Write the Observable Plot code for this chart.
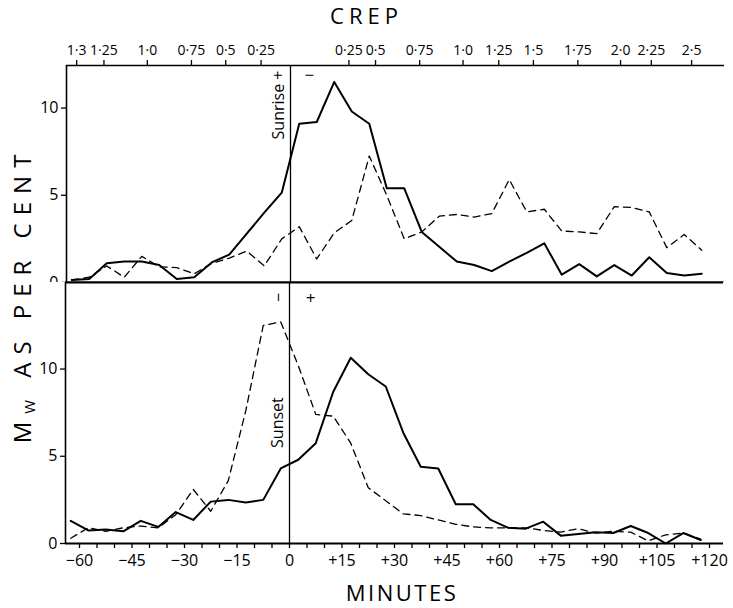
<!DOCTYPE html>
<html>
<head>
<meta charset="utf-8">
<script src="https://cdn.jsdelivr.net/npm/d3@7"></script>
<script src="https://cdn.jsdelivr.net/npm/@observablehq/plot@0.6"></script>
<style>
  body { margin: 0; background: #fff; }
  #wrap { position: relative; width: 733px; height: 608px; background: #fff; overflow: hidden;
          font-family: 'Open Sans', 'DejaVu Sans', sans-serif; color: #000; }
  #topPanel { position: absolute; left: 0; top: 0; width: 733px; }
  #botPanel { position: absolute; left: 0; top: 282px; width: 733px; }
  .ttl { position: absolute; text-align: center; white-space: nowrap; }
  #crep { left: 300px; top: 3px; width: 133px; font-size: 22px; line-height: 24px; letter-spacing: 5px; }
  #minutes { left: 302px; top: 580px; width: 200px; font-size: 22px; line-height: 24px; letter-spacing: 2.5px; }
  #ytitle { left: -143px; top: 280px; width: 330px; height: 30px; font-size: 24px; line-height: 30px;
            letter-spacing: 8px; transform: rotate(-90deg); transform-origin: center; }
  #ytitle sub { font-size: 0.62em; vertical-align: -0.3em; letter-spacing: 8px; }
</style>
</head>
<body>
<div id="wrap">
  <div id="topPanel"></div>
  <div id="botPanel"></div>
  <div class="ttl" id="crep">CREP</div>
  <div class="ttl" id="minutes">MINUTES</div>
  <div class="ttl" id="ytitle">M<sub>W</sub> AS PER CENT</div>
</div>
<script>
// ---- data (minutes relative to sunrise / sunset; 5-minute bins) ----
const minutes = [-62.5,-57.5,-52.5,-47.5,-42.5,-37.5,-32.5,-27.5,-22.5,-17.5,-12.5,-7.5,-2.5,2.5,7.5,12.5,17.5,22.5,27.5,32.5,37.5,42.5,47.5,52.5,57.5,62.5,67.5,72.5,77.5,82.5,87.5,92.5,97.5,102.5,107.5,112.5,117.5];

// Sunrise panel (upper)
const sunriseSolid  = [0.15,0.2,1.1,1.2,1.2,1.0,0.2,0.3,1.15,1.6,2.8,4.0,5.15,9.1,9.2,11.5,9.8,9.1,5.4,5.4,2.9,2.05,1.2,1.0,0.65,1.2,1.7,2.25,0.45,1.05,0.35,1.0,0.4,1.45,0.55,0.4,0.5];
const sunriseDashed = [0.15,0.3,0.95,0.3,1.5,0.9,0.85,0.5,1.1,1.4,1.8,0.95,2.5,3.2,1.35,2.85,3.55,7.25,5.0,2.5,2.9,3.8,3.9,3.75,3.95,5.9,4.05,4.2,2.95,2.9,2.8,4.35,4.3,4.05,2.0,2.75,1.85];

// Sunset panel (lower)
const sunsetSolid  = [1.3,0.75,0.8,0.7,1.3,0.95,1.8,1.35,2.4,2.5,2.35,2.5,4.3,4.8,5.75,8.7,10.65,9.7,9.0,6.35,4.4,4.3,2.25,2.25,1.35,0.9,0.85,1.25,0.45,0.55,0.65,0.6,1.0,0.6,0.0,0.6,0.2];
const sunsetDashed = [0.3,0.9,0.7,0.9,1.0,0.9,1.65,3.1,1.85,3.6,7.6,12.5,12.7,10.2,7.4,7.3,5.75,3.2,2.45,1.7,1.6,1.35,1.1,0.95,0.9,0.9,0.9,0.75,0.65,0.85,0.6,0.7,0.65,0.15,0.5,0.6,0.25];

// Top (CREP) axis: positions in minutes and their labels
const crepMinutes = [-61.1,-53.3,-40.9,-28.3,-18.5,-8.4,16.7,24.3,36.9,49.3,59.5,69.4,82.1,94.3,103.1,114.6];
const crepLabels  = ["1·3","1·25","1·0","0·75","0·5","0·25","0·25","0·5","0·75","1·0","1·25","1·5","1·75","2·0","2·25","2·5"];

// Bottom (MINUTES) axis labels
const minuteTicks  = [-60,-45,-30,-15,0,15,30,45,60,75,90,105,120];
const minuteLabels = ["−60","−45","−30","−15","0","+15","+30","+45","+60","+75","+90","+105","+120"];
const minorTicks = d3.range(-60, 121, 5);

const yTicks = [0, 5, 10];

// annotations (in data units)
const topRotNotes = [{m: -3.4, v: 12.15, label: "Sunrise +"}];
const topNotes    = [{m: 5.4,  v: 11.85, label: "−"}];
const botRotNotes = [{m: -3.3, v: 6.93, label: "Sunset"}, {m: -3.1, v: 14.1, label: "−"}];
const botNotes    = [{m: 6.0,  v: 14.05, label: "+"}];

// ---- scales / helpers ----
const xDomain = [-64, 124];
const topY = [0, 12.44];
const botY = [0, 14.96];
const rows = arr => minutes.map((m, i) => ({m, v: arr[i]}));
const crepMap = new Map(crepMinutes.map((d, i) => [d, crepLabels[i]]));
const minMap = new Map(minuteTicks.map((d, i) => [d, minuteLabels[i]]));
const fontFam = "'Open Sans', 'DejaVu Sans', sans-serif";
const baseStyle = {fontFamily: fontFam, fontSize: "15px", color: "black", background: "white", overflow: "visible"};

const topPlot = Plot.plot({
  width: 733, height: 282,
  marginLeft: 66, marginRight: 9, marginTop: 65, marginBottom: 0,
  x: {domain: xDomain},
  y: {domain: topY},
  style: baseStyle,
  marks: [
    Plot.ruleX([xDomain[0]], {strokeWidth: 1.6}),
    Plot.ruleY([topY[1]], {strokeWidth: 1.6}),
    Plot.ruleY([0], {strokeWidth: 1.8}),
    Plot.ruleX([0], {strokeWidth: 1.3}),
    Plot.axisX({anchor: "top", ticks: crepMinutes, tickFormat: d => crepMap.get(d), tickSize: 6, tickPadding: 5, fontSize: 14, label: null, strokeWidth: 1.3}),
    Plot.axisY({ticks: yTicks, tickSize: 5, tickPadding: 3, fontSize: 16, label: null, strokeWidth: 1.3}),
    Plot.line(rows(sunriseDashed), {x: "m", y: "v", strokeWidth: 1.3, strokeDasharray: "7,5"}),
    Plot.line(rows(sunriseSolid), {x: "m", y: "v", strokeWidth: 2}),
    Plot.text(topRotNotes, {x: "m", y: "v", text: "label", rotate: -90, textAnchor: "end", fontSize: 16}),
    Plot.text(topNotes, {x: "m", y: "v", text: "label", fontSize: 17})
  ]
});
document.getElementById("topPanel").append(topPlot);

const botPlot = Plot.plot({
  width: 733, height: 326,
  marginLeft: 65, marginRight: 10, marginTop: 0, marginBottom: 65,
  x: {domain: xDomain},
  y: {domain: botY},
  style: baseStyle,
  marks: [
    Plot.ruleX([xDomain[0]], {strokeWidth: 1.6}),
    Plot.ruleY([botY[1]], {strokeWidth: 1.8}),
    Plot.ruleY([0], {strokeWidth: 1.8}),
    Plot.ruleX([0], {strokeWidth: 1.3}),
    Plot.axisX({ticks: minorTicks, tickFormat: d => minMap.get(d) ?? "", tickSize: 5, tickPadding: 6, fontSize: 16, label: null, strokeWidth: 1.3}),
    Plot.axisY({ticks: yTicks, tickSize: 5, tickPadding: 3, fontSize: 16, label: null, strokeWidth: 1.3}),
    Plot.line(rows(sunsetDashed), {x: "m", y: "v", strokeWidth: 1.3, strokeDasharray: "7,5"}),
    Plot.line(rows(sunsetSolid), {x: "m", y: "v", strokeWidth: 2}),
    Plot.text(botRotNotes, {x: "m", y: "v", text: "label", rotate: -90, textAnchor: "middle", fontSize: 16}),
    Plot.text(botNotes, {x: "m", y: "v", text: "label", fontSize: 17})
  ]
});
document.getElementById("botPanel").append(botPlot);
</script>
</body>
</html>
